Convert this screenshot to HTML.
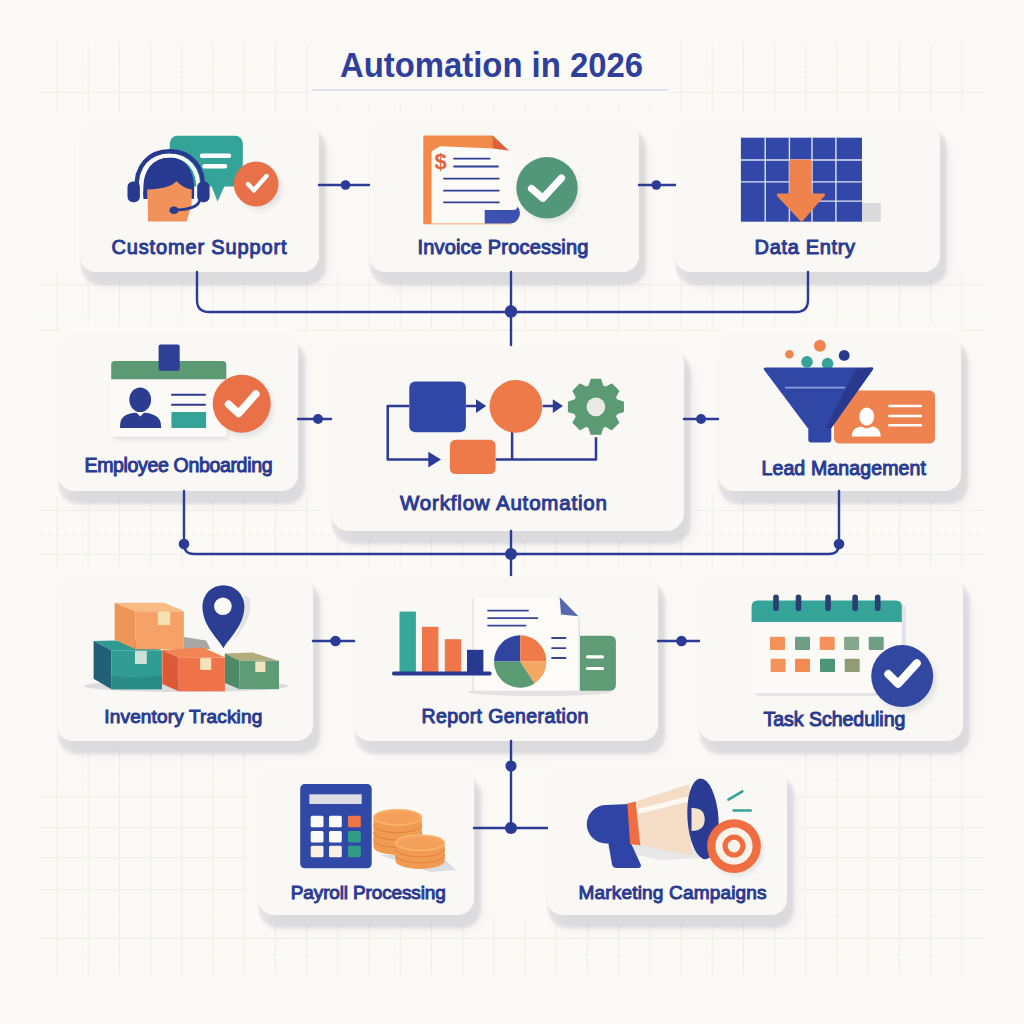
<!DOCTYPE html>
<html><head><meta charset="utf-8">
<style>
html,body{margin:0;padding:0;width:1024px;height:1024px;overflow:hidden;background:#fcfaf6;}
.card{position:absolute;background:#f9f8f4;border-radius:16px;box-shadow:4px 10px 3px 3px rgba(90,95,125,0.14), 9px 15px 12px 0px rgba(90,95,125,0.07), 0 0 0 9px #fcfaf6;}
svg{position:absolute;left:0;top:0;}
text{font-family:"Liberation Sans",sans-serif;font-weight:normal;fill:#2a3b92;stroke:#2a3b92;stroke-width:1px;}
</style></head><body>
<svg width="1024" height="1024" id="grid">
<g stroke="#efeee9" stroke-width="1" fill="none">
<path d="M57.0 43V112M88.2 43V112M119.4 43V112M150.6 43V112M181.8 43V112M213.0 43V112M244.2 43V112M275.4 43V112M306.6 43V112M337.8 43V112M369.0 43V112M400.2 43V112M431.4 43V112M462.6 43V112M493.8 43V112M525.0 43V112M556.2 43V112M587.4 43V112M618.6 43V112M649.8 43V112M681.0 43V112M712.2 43V112M743.4 43V112M774.6 43V112M805.8 43V112M837.0 43V112M868.2 43V112M899.4 43V112M930.6 43V112M961.8 43V112M57.0 275V332M88.2 275V332M119.4 275V332M150.6 275V332M181.8 275V332M213.0 275V332M244.2 275V332M275.4 275V332M306.6 275V332M337.8 275V332M369.0 275V332M400.2 275V332M431.4 275V332M462.6 275V332M493.8 275V332M525.0 275V332M556.2 275V332M587.4 275V332M618.6 275V332M649.8 275V332M681.0 275V332M712.2 275V332M743.4 275V332M774.6 275V332M805.8 275V332M837.0 275V332M868.2 275V332M899.4 275V332M930.6 275V332M961.8 275V332M57.0 496V570M88.2 496V570M119.4 496V570M150.6 496V570M181.8 496V570M213.0 496V570M244.2 496V570M275.4 496V570M306.6 496V570M337.8 496V570M369.0 496V570M400.2 496V570M431.4 496V570M462.6 496V570M493.8 496V570M525.0 496V570M556.2 496V570M587.4 496V570M618.6 496V570M649.8 496V570M681.0 496V570M712.2 496V570M743.4 496V570M774.6 496V570M805.8 496V570M837.0 496V570M868.2 496V570M899.4 496V570M930.6 496V570M961.8 496V570M57.0 748V975M88.2 748V975M119.4 748V975M150.6 748V975M181.8 748V975M213.0 748V975M244.2 748V975M275.4 917V975M306.6 917V975M337.8 917V975M369.0 917V975M400.2 917V975M431.4 917V975M462.6 917V975M493.8 917V975M525.0 917V975M556.2 917V975M587.4 917V975M618.6 917V975M649.8 917V975M681.0 917V975M712.2 917V975M743.4 917V975M774.6 917V975M805.8 748V975M837.0 748V975M868.2 748V975M899.4 748V975M930.6 748V975M961.8 748V975"/>
<path d="M40 92.5H985M40 284.6H985M40 330.3H985M40 510.4H985M40 554.7H985M40 938.5H985M40 797H250M795 797H985M40 827.5H250M795 827.5H985M40 857.6H250M795 857.6H985M40 889.6H250M795 889.6H985"/>
<path d="M40 72H985M40 313.4H985M40 535H985M40 955H985M40 781H250M795 781H985M40 917H250M795 917H985" stroke-dasharray="4 4"/>
</g>
<rect x="312" y="30" width="357" height="75" fill="#fcfaf6"/>
</svg>

<div class="card" style="left:80px;top:122px;width:239px;height:150px"></div>
<div class="card" style="left:369px;top:122px;width:270px;height:150px"></div>
<div class="card" style="left:675px;top:122px;width:265px;height:150px"></div>
<div class="card" style="left:58px;top:334px;width:240px;height:157px"></div>
<div class="card" style="left:331px;top:345px;width:353px;height:186px;border-radius:18px"></div>
<div class="card" style="left:718px;top:334px;width:243px;height:157px"></div>
<div class="card" style="left:57px;top:575px;width:256px;height:166px"></div>
<div class="card" style="left:354px;top:575px;width:304px;height:166px"></div>
<div class="card" style="left:699px;top:575px;width:264px;height:166px"></div>
<div class="card" style="left:258px;top:769px;width:216px;height:146px"></div>
<div class="card" style="left:547px;top:769px;width:240px;height:146px"></div>

<svg width="1024" height="1024" id="main">
<defs><filter id="blr" x="-30%" y="-30%" width="160%" height="160%"><feGaussianBlur stdDeviation="2.5"/></filter></defs>
<g fill="#5a5f7d" opacity="0.13" filter="url(#blr)">
<circle cx="550" cy="192" r="30"/>
<circle cx="245" cy="408" r="29"/>
<circle cx="906" cy="681" r="31"/>
<circle cx="737" cy="850" r="26"/>
<circle cx="260" cy="188" r="22"/>
<rect x="115" y="385" width="113" height="55" rx="3"/>
</g>
<!-- title -->
<text x="340" y="76.8" font-size="34.5" textLength="303" lengthAdjust="spacingAndGlyphs" style="fill:#2f409c;stroke:none;font-weight:bold">Automation in 2026</text>
<line x1="312" y1="90" x2="669" y2="90" stroke="#d6dde8" stroke-width="1.5"/>

<!-- connectors -->
<g stroke="#2b3b96" stroke-width="2.4" fill="none" stroke-linecap="round">
<path d="M319 185H369M639 185H675"/>
<path d="M197 272V300Q197 312 209 312H796Q808 312 808 300V272M511 272V345"/>
<path d="M298 419H331M684 419H718"/>
<path d="M184 491V544Q184 554 194 554H829Q839 554 839 544V491M511 531V575"/>
<path d="M313 641H354M658 641H699"/>
<path d="M511 741V828M474 828H547"/>
</g>
<g fill="#2b3b96">
<circle cx="345.5" cy="185" r="4.8"/><circle cx="656.3" cy="185" r="4.8"/>
<circle cx="511" cy="311.5" r="6.2"/>
<circle cx="318" cy="419" r="5"/><circle cx="701" cy="419" r="5"/>
<circle cx="184" cy="544" r="5.3"/><circle cx="511" cy="554" r="6"/><circle cx="839" cy="544" r="5.3"/>
<circle cx="335.5" cy="641" r="5.3"/><circle cx="681.5" cy="641" r="5.3"/>
<circle cx="511" cy="766" r="5.6"/><circle cx="511" cy="828" r="6.1"/>
</g>

<!-- labels -->
<text x="111.5" y="254" font-size="20" textLength="175" lengthAdjust="spacing">Customer Support</text>
<text x="417.4" y="254" font-size="20" textLength="171" lengthAdjust="spacing">Invoice Processing</text>
<text x="754.5" y="254" font-size="20" textLength="100.6" lengthAdjust="spacing">Data Entry</text>
<text x="84.5" y="471.5" font-size="19.5" textLength="188" lengthAdjust="spacing">Employee Onboarding</text>
<text x="400.0" y="509.7" font-size="20.5" textLength="207" lengthAdjust="spacing">Workflow Automation</text>
<text x="761.4" y="475" font-size="19.5" textLength="164.6" lengthAdjust="spacing">Lead Management</text>
<text x="104.3" y="723.4" font-size="19" textLength="158" lengthAdjust="spacing">Inventory Tracking</text>
<text x="421.4" y="723.2" font-size="19.5" textLength="167" lengthAdjust="spacing">Report Generation</text>
<text x="763.4" y="725.7" font-size="19.5" textLength="142" lengthAdjust="spacing">Task Scheduling</text>
<text x="290.8" y="898.7" font-size="19" textLength="155" lengthAdjust="spacing">Payroll Processing</text>
<text x="578.6" y="898.6" font-size="19" textLength="188" lengthAdjust="spacing">Marketing Campaigns</text>

<!-- ICONS -->
<!-- 1 customer support -->
<g id="i1">
<rect x="169.8" y="135.8" width="73" height="50.6" rx="7.5" fill="#34a398"/>
<path d="M211 185 L217.5 201.5 L225 185 Z" fill="#34a398"/>
<line x1="202" y1="155.7" x2="229" y2="155.7" stroke="#fff" stroke-width="4.4" stroke-linecap="round"/>
<line x1="204.5" y1="166.2" x2="225" y2="166.2" stroke="#fff" stroke-width="4.4" stroke-linecap="round"/>
<circle cx="256.1" cy="184" r="22.4" fill="#e8714a"/>
<path d="M248 184 L253.8 190.3 L266.5 176" stroke="#fff" stroke-width="4.4" fill="none" stroke-linecap="round" stroke-linejoin="round"/>
<!-- face -->
<path d="M147.5 180 L191.5 180 L191.5 205 L186.5 221.5 L148 221.5 Z" fill="#f0925a"/>
<!-- hair -->
<path d="M143.5 199 C141 170 151 157.5 168.5 157.5 C186 157.5 196.5 170 194 199 L191.5 199 L191.5 189.5 Q183 188 176.5 181.3 Q169 189 147.5 189.5 L147.5 199 Z" fill="#283a8f"/>
<!-- headband -->
<path d="M141.3 192 C139.5 169 152.5 155.4 169.8 155.4 C187 155.4 200 169 198.3 192" stroke="#fbfaf7" stroke-width="4" fill="none"/>
<path d="M137 190 C134.5 166 149.5 151.2 169.8 151.2 C190 151.2 205 166 202.6 190" stroke="#283a8f" stroke-width="4.4" fill="none"/>
<rect x="127.5" y="181.4" width="12.4" height="20.8" rx="5.5" fill="#283a8f"/>
<rect x="197.2" y="181.4" width="12.4" height="20.8" rx="5.5" fill="#283a8f"/>
<path d="M200 199 C199 207 190 209.5 176 210" stroke="#283a8f" stroke-width="2.6" fill="none" stroke-linecap="round"/>
<ellipse cx="174" cy="210.3" rx="4.6" ry="3.8" fill="#283a8f"/>
</g>
<!-- 2 invoice -->
<g id="i2">
<path d="M423.3 135.5 L492.5 135.5 L511.3 153 L511.3 224.3 L423.3 224.3 Z" fill="#f08b4c"/>
<path d="M492.5 135.5 L511.3 153 L493 151.5 Z" fill="#e0603a"/>
<path d="M440 146.3 L493 148.5 L512.5 151 L512.5 223.4 L431.6 223.4 L431.6 151.5 Z" fill="#fbfaf7"/>
<g stroke="#2e3f96" stroke-width="1.8" stroke-linecap="round">
<line x1="454" y1="158.7" x2="489.7" y2="158.7"/>
<line x1="454" y1="166.5" x2="498" y2="166.5"/>
<line x1="444" y1="178.6" x2="498.8" y2="178.6"/>
<line x1="444" y1="190.7" x2="498.8" y2="190.7"/>
<line x1="444" y1="202.4" x2="498.8" y2="202.4"/>
</g>
<text x="434.5" y="169" font-size="22" style="fill:#e8603a;stroke:none;font-weight:bold">$</text>
<path d="M484.7 210 L513 210 Q517 210 517.5 206.5 Q521 210 519.5 216 Q517 223.4 510 223.4 L484.7 223.4 Z" fill="#3d52b0"/>
<circle cx="547" cy="187.8" r="30.7" fill="#52977a"/>
<path d="M531.5 188.6 L542.8 198.3 L561.5 178" stroke="#fff" stroke-width="7.2" fill="none" stroke-linecap="round" stroke-linejoin="round"/>
</g>
<!-- 3 data entry -->
<g id="i3">
<rect x="862" y="203" width="18.8" height="18.75" fill="#dadada"/>
<rect x="740.9" y="137.7" width="121.1" height="84" fill="#3148a8"/>
<g stroke="#dfe3f2" stroke-width="1.4">
<line x1="765.2" y1="137.7" x2="765.2" y2="221.7"/>
<line x1="789.4" y1="137.7" x2="789.4" y2="221.7"/>
<line x1="812" y1="137.7" x2="812" y2="221.7"/>
<line x1="835.9" y1="137.7" x2="835.9" y2="221.7"/>
<line x1="740.9" y1="160" x2="862" y2="160"/>
<line x1="740.9" y1="181.9" x2="862" y2="181.9"/>
<line x1="818" y1="201.1" x2="862" y2="201.1"/>
</g>
<path d="M790.5 159.5 L810.5 159.5 Q811.3 159.5 811.3 160.5 L811.3 193.6 L823.5 193.6 Q826 193.8 824.5 196 L801.5 222.3 L777.5 196.5 Q775.8 193.8 778.5 193.6 L789.4 193.6 L789.4 160.5 Q789.5 159.5 790.5 159.5 Z" fill="#f0824c"/>
</g>
<!-- 4 onboarding -->
<g id="i4">
<rect x="112" y="382" width="115" height="57" rx="3" fill="#e6e6e6" opacity="0.8"/>
<path d="M111.2 364.6 Q111.2 361.1 114.7 361.1 L222.8 361.1 Q226.3 361.1 226.3 364.6 L226.3 379.5 L111.2 379.5 Z" fill="#5b9a72"/>
<rect x="111.2" y="379.5" width="115.1" height="57.2" fill="#fbfaf7"/>
<rect x="158.6" y="344.4" width="21.1" height="26.4" rx="2" fill="#2e3f96"/>
<ellipse cx="140.2" cy="399.8" rx="10.9" ry="12.3" fill="#2c3c90"/>
<path d="M120 427.9 L161.2 427.9 Q161.5 418 154 415 Q148 412.5 144 412.8 L140.2 416.5 L136.4 412.8 Q132 412.5 126 415 Q119.5 418 120 427.9 Z" fill="#2c3c90"/>
<g stroke="#2c3c90" stroke-width="2" stroke-linecap="round">
<line x1="172" y1="394.8" x2="205" y2="394.8"/>
<line x1="172" y1="404.7" x2="205" y2="404.7"/>
</g>
<rect x="171.4" y="412.1" width="34.7" height="15.8" rx="1" fill="#35a397"/>
<circle cx="241.7" cy="403.7" r="29" fill="#ea7047"/>
<path d="M228.5 404.2 L238.6 413.5 L255.8 394" stroke="#fff" stroke-width="7.5" fill="none" stroke-linecap="round" stroke-linejoin="round"/>
</g>
<!-- 5 workflow -->
<g id="i5">
<g stroke="#2b3b96" stroke-width="2.5" fill="none" stroke-linejoin="round">
<path d="M409.3 406 H387.7 V459.4 H430"/>
<path d="M465.9 406 H477"/>
<path d="M542.6 406 H553"/>
<path d="M495.6 459.4 H596 V437.3"/>
<path d="M512.1 432 V459.4"/>
</g>
<g fill="#2b3b96">
<path d="M476 399.2 L486.2 406 L476 413 Z"/>
<path d="M552.8 399.2 L563 406 L552.8 413 Z"/>
<path d="M428.3 451.8 L441 459.6 L428.3 467.6 Z"/>
</g>
<rect x="409.3" y="381.4" width="56.6" height="50.8" rx="6" fill="#3147a8"/>
<circle cx="515.9" cy="406.3" r="26.4" fill="#ee7a4a"/>
<rect x="449.9" y="439.8" width="45.7" height="34.3" rx="5.6" fill="#ee7a4a"/>
<path d="M589.0 386.1L591.1 379.4L600.7 379.4L602.8 386.1A21.8 21.8 0 0 1 605.6 387.3L611.8 384.0L618.7 390.9L615.4 397.1A21.8 21.8 0 0 1 616.6 399.9L623.3 402.0L623.3 411.6L616.6 413.7A21.8 21.8 0 0 1 615.4 416.5L618.7 422.7L611.8 429.6L605.6 426.3A21.8 21.8 0 0 1 602.8 427.5L600.7 434.2L591.1 434.2L589.0 427.5A21.8 21.8 0 0 1 586.2 426.3L580.0 429.6L573.1 422.7L576.4 416.5A21.8 21.8 0 0 1 575.2 413.7L568.5 411.6L568.5 402.0L575.2 399.9A21.8 21.8 0 0 1 576.4 397.1L573.1 390.9L580.0 384.0L586.2 387.3A21.8 21.8 0 0 1 589.0 386.1Z" fill="#5b9a72" stroke="#5b9a72" stroke-width="1.2" stroke-linejoin="round"/><circle cx="595.9" cy="406.8" r="9.4" fill="#e9e9e6"/>
</g>
<!-- 6 lead -->
<g id="i6">
<rect x="834" y="390.4" width="101" height="53.1" rx="5.4" fill="#ee8350"/>
<ellipse cx="866.7" cy="416.6" rx="7.5" ry="9" fill="#fff"/>
<path d="M851.7 436.4 L880.7 436.4 Q880.5 428 873 426.5 L866.7 428.5 L860.4 426.5 Q852 428 851.7 436.4 Z" fill="#fff"/>
<g stroke="#fff" stroke-width="2.5" stroke-linecap="round">
<line x1="889.3" y1="405.9" x2="920.9" y2="405.9"/>
<line x1="889.3" y1="416" x2="920.9" y2="416"/>
<line x1="889.3" y1="425.2" x2="920.9" y2="425.2"/>
</g>
<circle cx="789.4" cy="354.3" r="4.3" fill="#f0864f"/>
<circle cx="819.9" cy="345.7" r="6" fill="#f0864f"/>
<circle cx="807" cy="361.9" r="5.8" fill="#35a397"/>
<circle cx="827.6" cy="363.6" r="5.8" fill="#35a397"/>
<circle cx="844.2" cy="355.4" r="5.4" fill="#283a8f"/>
<path d="M808.3 425 H831.3 V440 Q831.3 442.4 829 442.4 H810.6 Q808.3 442.4 808.3 440 Z" fill="#3147a6"/>
<path d="M765.5 367.6 L872 367.6 Q874 368 872.7 369.8 L831.3 428 L807.6 428 L764 369.8 Q763 368 765.5 367.6 Z" fill="#3147a6"/>
<path d="M872 367.6 Q874 368 872.7 369.8 L831.3 428 L825.5 428 L856 369 Z" fill="#29398e"/>
<line x1="785" y1="387.6" x2="845.2" y2="387.6" stroke="#8c9bd6" stroke-width="1.7"/>
</g>
<!-- 7 inventory -->
<g id="i7">
<ellipse cx="186" cy="686" rx="102" ry="6" fill="#dcdcde"/>
<path d="M183.9 637 L206 640.5 L210.5 649 L183.9 649 Z" fill="#a9a6a6"/>
<!-- teal box -->
<path d="M93.6 640.9 L135 640 L161.9 650.3 L111.5 650.3 Z" fill="#2f9a91"/>
<path d="M93.6 640.9 L111.5 650.3 L111.5 689.2 L93.6 678.7 Z" fill="#22607a"/>
<rect x="111.5" y="650.3" width="50.4" height="38.9" fill="#309c92"/>
<path d="M111.5 676 Q135 680 161.9 675 L161.9 689.2 L111.5 689.2 Z" fill="#2a8c86"/>
<rect x="135" y="651" width="11.8" height="13" fill="#cfe0d6"/>
<!-- top orange -->
<path d="M114.6 602.7 L164 602.7 L183.9 611.1 L135.6 611.5 Z" fill="#f8bb86"/>
<path d="M114.6 602.7 L135.6 611.5 L135.6 649.3 L114.6 639.8 Z" fill="#ee9559"/>
<rect x="135.6" y="611.3" width="48.3" height="38" fill="#f5a167"/>
<rect x="157.7" y="611.5" width="12.6" height="13.6" fill="#f4e0b0"/>
<!-- red box -->
<path d="M162.3 649.9 L202.8 647.6 L224.9 657.3 L178.7 657.7 Z" fill="#f38555"/>
<path d="M162.3 649.9 L178.7 657.7 L178.7 691.3 L162.3 683.9 Z" fill="#dc5a35"/>
<rect x="178.7" y="657.5" width="46.2" height="33.8" fill="#ef7248"/>
<rect x="200.1" y="658.1" width="11.1" height="11.8" fill="#f4e2b8"/>
<!-- green box -->
<path d="M224.9 653.5 L252.2 652.4 L278.4 660.8 L239.6 660.8 Z" fill="#b2ac7c"/>
<path d="M224.9 653.5 L239.6 660.8 L239.6 689.2 L224.9 682.9 Z" fill="#4f8a66"/>
<rect x="239.6" y="660.8" width="39.4" height="28.4" fill="#5f9b75"/>
<rect x="255.3" y="661.5" width="10.1" height="10.5" fill="#f1e4c0"/>
<!-- pin -->
<path d="M228 652 C232 640 246 628 250 612 C252 600 248 595 244 595 C246 620 236 636 228 652 Z" fill="#e3e3e5"/>
<path d="M223.4 648.2 C218 638 202.4 626 202.4 606.2 A21 21 0 0 1 244.4 606.2 C244.4 626 229 638 223.4 648.2 Z" fill="#2c3d94"/>
<circle cx="222.9" cy="606.2" r="8.8" fill="#fbfaf7"/>
</g>
<!-- 8 report -->
<g id="i8">
<ellipse cx="540" cy="692" rx="72" ry="4" fill="#e2e2e3"/>
<path d="M571 635.7 H609.9 Q615.9 635.7 615.9 641.7 V684.8 Q615.9 690.8 609.9 690.8 H571 Z" fill="#5f9b75"/>
<g stroke="#fff" stroke-width="3.2" stroke-linecap="round">
<line x1="587.5" y1="656.8" x2="602.5" y2="656.8"/>
<line x1="587.5" y1="668.5" x2="602.5" y2="668.5"/>
</g>
<path d="M472.5 598.5 L559.6 598.5 L580 618 L580 692.5 L472.5 692.5 Z" fill="#e4e3e0"/><path d="M474 597 L559.6 597 L578.4 616.2 L578.4 690.8 L474 690.8 Z" fill="#fcfbf8"/>
<path d="M559.6 597 L578.4 616.2 L561 614.5 Z" fill="#5868ad"/>
<g stroke="#34449a" stroke-width="1.9" stroke-linecap="round">
<line x1="488.1" y1="610.6" x2="528" y2="610.6"/>
<line x1="488.1" y1="618.1" x2="537.3" y2="618.1"/>
<line x1="488.1" y1="625.6" x2="525.6" y2="625.6"/>
<line x1="552.1" y1="638" x2="565.5" y2="638"/>
<line x1="552.1" y1="648.1" x2="565.5" y2="648.1"/>
<line x1="552.1" y1="658" x2="565.5" y2="658"/>
</g>
<rect x="399.5" y="611.6" width="16.4" height="60.4" fill="#35a89a"/>
<rect x="422" y="626.8" width="16.4" height="45.2" fill="#f07548"/>
<rect x="444.8" y="639.2" width="16.4" height="32.8" fill="#f07548"/>
<rect x="467" y="649.8" width="16.4" height="22.2" fill="#283a8f"/>
<rect x="392" y="671.6" width="99.6" height="3.9" rx="1.9" fill="#283a8f"/>
<path d="M520.2 661.5 L494.00 661.50 A26.2 26.2 0 0 1 520.20 635.30 Z" fill="#2f45a0"/><path d="M520.2 661.5 L520.20 635.30 A26.2 26.2 0 0 1 546.40 661.50 Z" fill="#f07a48"/><path d="M520.2 661.5 L546.40 661.50 A26.2 26.2 0 0 1 534.47 683.47 Z" fill="#f6a862"/><path d="M520.2 661.5 L534.47 683.47 A26.2 26.2 0 0 1 494.00 661.50 Z" fill="#5b9b74"/>
</g>
<!-- 9 task -->
<g id="i9">
<rect x="754" y="604" width="152" height="92" rx="5" fill="#e4e4e6"/>
<path d="M751.6 606.6 Q751.6 600.6 757.6 600.6 H895.8 Q901.8 600.6 901.8 606.6 V622 H751.6 Z" fill="#35a397"/>
<path d="M751.6 622 H901.8 V689 Q901.8 693.1 897.8 693.1 H755.6 Q751.6 693.1 751.6 689 Z" fill="#fbfaf7"/>
<rect x="773.2" y="594.6" width="5.6" height="16.4" rx="2.8" fill="#2a3e72"/><rect x="795.7" y="594.6" width="5.6" height="16.4" rx="2.8" fill="#2a3e72"/><rect x="825.3" y="594.6" width="5.6" height="16.4" rx="2.8" fill="#2a3e72"/><rect x="852.3" y="594.6" width="5.6" height="16.4" rx="2.8" fill="#2a3e72"/><rect x="874.9" y="594.6" width="5.6" height="16.4" rx="2.8" fill="#2a3e72"/>
<rect x="770" y="636.7" width="15" height="13.2" rx="1" fill="#f3935a"/><rect x="795" y="636.7" width="15" height="13.2" rx="1" fill="#6e9f86"/><rect x="819.7" y="636.7" width="15" height="13.2" rx="1" fill="#f3935a"/><rect x="844.1" y="636.7" width="15" height="13.2" rx="1" fill="#84a88a"/><rect x="868.7" y="636.7" width="15" height="13.2" rx="1" fill="#6e9f86"/><rect x="770.6" y="658.7" width="15" height="13.2" rx="1" fill="#f3935a"/><rect x="795" y="658.7" width="15" height="13.2" rx="1" fill="#f38a4f"/><rect x="820" y="658.7" width="15" height="13.2" rx="1" fill="#4e9478"/><rect x="844.7" y="658.7" width="15" height="13.2" rx="1" fill="#8f9c74"/>
<circle cx="902.2" cy="676.1" r="31" fill="#3147a0"/>
<path d="M888.3 674.1 L898.2 683.8 L916.8 663.3" stroke="#fff" stroke-width="8" fill="none" stroke-linecap="round" stroke-linejoin="round"/>
</g>
<!-- 10 payroll -->
<g id="i10">
<path d="M380 855 L430 872 L456 870 L440 855 Z" fill="#dcdde2"/>
<rect x="300.2" y="784.1" width="71.5" height="84.1" rx="4.4" fill="#3048a6"/>
<rect x="309.3" y="794.3" width="52.4" height="9.7" fill="#dcdde3"/>
<rect x="310.7" y="815.8" width="12.8" height="11.5" rx="1.5" fill="#fdfbf7"/><rect x="329" y="815.8" width="12.8" height="11.5" rx="1.5" fill="#fdfbf7"/><rect x="348" y="815.8" width="12.8" height="11.5" rx="1.5" fill="#f07546"/><rect x="310.7" y="830.9" width="12.8" height="11.5" rx="1.5" fill="#fdfbf7"/><rect x="329" y="830.9" width="12.8" height="11.5" rx="1.5" fill="#fdfbf7"/><rect x="348" y="830.9" width="12.8" height="11.5" rx="1.5" fill="#2e9d86"/><rect x="310.7" y="845.7" width="12.8" height="11.5" rx="1.5" fill="#fbf0e2"/><rect x="329" y="845.7" width="12.8" height="11.5" rx="1.5" fill="#fbf0e2"/><rect x="348" y="845.7" width="12.8" height="11.5" rx="1.5" fill="#2e9d86"/>
<path d="M373.5 817.2 V847 A24.150000000000006 7.9 0 0 0 421.8 847 V817.2 Z" fill="#f09a52"/><path d="M373.5 824.7 A24.150000000000006 7.9 0 0 0 421.8 824.7" stroke="#e0823e" stroke-width="1" fill="none"/><path d="M373.5 832.1 A24.150000000000006 7.9 0 0 0 421.8 832.1" stroke="#e0823e" stroke-width="1" fill="none"/><path d="M373.5 839.5 A24.150000000000006 7.9 0 0 0 421.8 839.5" stroke="#e0823e" stroke-width="1" fill="none"/><ellipse cx="397.65" cy="817.2" rx="24.150000000000006" ry="7.9" fill="#f7a55f" stroke="#f9c07e" stroke-width="1"/><ellipse cx="397.65" cy="818.2" rx="21.150000000000006" ry="5.9" fill="#f5a05a"/>
<path d="M395.5 842.7 V861 A24.599999999999994 7.9 0 0 0 444.7 861 V842.7 Z" fill="#f09a52"/><path d="M395.5 848.8 A24.599999999999994 7.9 0 0 0 444.7 848.8" stroke="#e0823e" stroke-width="1" fill="none"/><path d="M395.5 854.9 A24.599999999999994 7.9 0 0 0 444.7 854.9" stroke="#e0823e" stroke-width="1" fill="none"/><ellipse cx="420.1" cy="842.7" rx="24.599999999999994" ry="7.9" fill="#f7a55f" stroke="#f9c07e" stroke-width="1"/><ellipse cx="420.1" cy="843.7" rx="21.599999999999994" ry="5.9" fill="#f5a05a"/>
</g>
<!-- 11 megaphone -->
<g id="i11">
<path d="M605 848 L660 860 L700 858 L700 850 L630 840 Z" fill="#e2e2e4" opacity="0.8"/>
<path d="M607.8 840 L612 864.5 Q613 868 617 868 L638.5 868 Q642 867.5 640.5 864 L629.5 840 Z" fill="#2f44a5"/>
<path d="M630.1 804 L606 805 A19 19 0 0 0 606 843.5 L631 843.5 Z" fill="#2f44a5"/>
<path d="M635.7 801.5 L689.5 783.9 L692 855.4 L640.3 845.2 Z" fill="#f5dcc6"/>
<path d="M636 812 L688 799" stroke="#fdf8f2" stroke-width="5" fill="none"/>
<path d="M627.3 803.4 L635.7 801.5 L640.3 845.2 L630.1 844.2 Z" fill="#ee6e42"/>
<ellipse cx="703" cy="818.8" rx="15.5" ry="40.5" fill="#293b92" transform="rotate(-4 703 818.8)"/>
<path d="M691.5 808 Q704.7 807.5 704.7 819.5 Q704.7 831 691.5 830.9 Z" fill="#f7e2cc"/>
<circle cx="734" cy="846.1" r="26.9" fill="#ee6e42"/>
<circle cx="734" cy="846.1" r="18.6" fill="#fbf3ea"/>
<circle cx="734" cy="846.1" r="11.5" fill="#ee6e42"/>
<circle cx="734" cy="846.1" r="6.3" fill="#fbf3ea"/>
<g stroke="#35a397" stroke-width="2.6" stroke-linecap="round">
<line x1="728.4" y1="799.7" x2="742.4" y2="791.3"/>
<line x1="733.6" y1="810.5" x2="750.7" y2="810.5"/>
</g>
</g>
</svg>
</body></html>
